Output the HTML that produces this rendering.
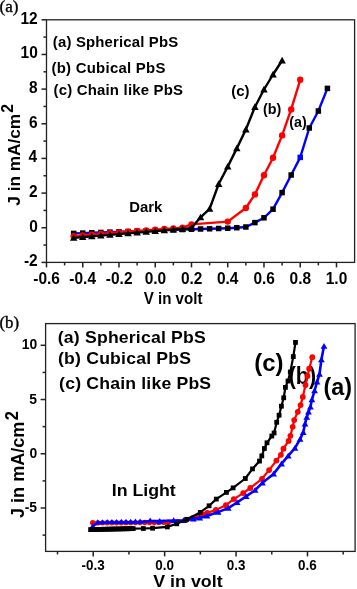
<!DOCTYPE html>
<html><head><meta charset="utf-8"><style>
html,body{margin:0;padding:0;background:#fff;}
body{width:357px;height:589px;overflow:hidden;}
svg{display:block;will-change:transform;}
</style></head><body>
<svg width="357" height="589" viewBox="0 0 357 589">
<rect width="357" height="589" fill="#fff"/>
<rect x="46.5" y="19.8" width="308.1" height="242.59999999999997" fill="none" stroke="#222" stroke-width="1.3"/>
<line x1="41.5" y1="262.40" x2="46.5" y2="262.40" stroke="#222" stroke-width="1.5"/>
<text transform="translate(23.94,266.30) scale(0.9500,1)" font-family='"Liberation Sans", sans-serif' font-size="16.3" font-weight="bold">-2</text>
<line x1="43.5" y1="245.07" x2="46.5" y2="245.07" stroke="#222" stroke-width="1.5"/>
<line x1="41.5" y1="227.74" x2="46.5" y2="227.74" stroke="#222" stroke-width="1.5"/>
<text transform="translate(29.13,231.64) scale(0.9500,1)" font-family='"Liberation Sans", sans-serif' font-size="16.3" font-weight="bold">0</text>
<line x1="43.5" y1="210.41" x2="46.5" y2="210.41" stroke="#222" stroke-width="1.5"/>
<line x1="41.5" y1="193.09" x2="46.5" y2="193.09" stroke="#222" stroke-width="1.5"/>
<text transform="translate(29.09,196.99) scale(0.9500,1)" font-family='"Liberation Sans", sans-serif' font-size="16.3" font-weight="bold">2</text>
<line x1="43.5" y1="175.76" x2="46.5" y2="175.76" stroke="#222" stroke-width="1.5"/>
<line x1="41.5" y1="158.43" x2="46.5" y2="158.43" stroke="#222" stroke-width="1.5"/>
<text transform="translate(28.58,162.33) scale(0.9500,1)" font-family='"Liberation Sans", sans-serif' font-size="16.3" font-weight="bold">4</text>
<line x1="43.5" y1="141.10" x2="46.5" y2="141.10" stroke="#222" stroke-width="1.5"/>
<line x1="41.5" y1="123.77" x2="46.5" y2="123.77" stroke="#222" stroke-width="1.5"/>
<text transform="translate(29.05,127.67) scale(0.9500,1)" font-family='"Liberation Sans", sans-serif' font-size="16.3" font-weight="bold">6</text>
<line x1="43.5" y1="106.44" x2="46.5" y2="106.44" stroke="#222" stroke-width="1.5"/>
<line x1="41.5" y1="89.11" x2="46.5" y2="89.11" stroke="#222" stroke-width="1.5"/>
<text transform="translate(28.97,93.01) scale(0.9500,1)" font-family='"Liberation Sans", sans-serif' font-size="16.3" font-weight="bold">8</text>
<line x1="43.5" y1="71.79" x2="46.5" y2="71.79" stroke="#222" stroke-width="1.5"/>
<line x1="41.5" y1="54.46" x2="46.5" y2="54.46" stroke="#222" stroke-width="1.5"/>
<text transform="translate(20.53,58.36) scale(0.9500,1)" font-family='"Liberation Sans", sans-serif' font-size="16.3" font-weight="bold">10</text>
<line x1="43.5" y1="37.13" x2="46.5" y2="37.13" stroke="#222" stroke-width="1.5"/>
<line x1="41.5" y1="19.80" x2="46.5" y2="19.80" stroke="#222" stroke-width="1.5"/>
<text transform="translate(20.49,23.70) scale(0.9500,1)" font-family='"Liberation Sans", sans-serif' font-size="16.3" font-weight="bold">12</text>
<line x1="46.50" y1="262.4" x2="46.50" y2="267.4" stroke="#222" stroke-width="1.5"/>
<text transform="translate(33.35,284.30) scale(0.9200,1)" font-family='"Liberation Sans", sans-serif' font-size="16.8" font-weight="bold">-0.6</text>
<line x1="64.62" y1="262.4" x2="64.62" y2="265.4" stroke="#222" stroke-width="1.5"/>
<line x1="82.75" y1="262.4" x2="82.75" y2="267.4" stroke="#222" stroke-width="1.5"/>
<text transform="translate(69.37,284.30) scale(0.9200,1)" font-family='"Liberation Sans", sans-serif' font-size="16.8" font-weight="bold">-0.4</text>
<line x1="100.87" y1="262.4" x2="100.87" y2="265.4" stroke="#222" stroke-width="1.5"/>
<line x1="118.99" y1="262.4" x2="118.99" y2="267.4" stroke="#222" stroke-width="1.5"/>
<text transform="translate(105.86,284.30) scale(0.9200,1)" font-family='"Liberation Sans", sans-serif' font-size="16.8" font-weight="bold">-0.2</text>
<line x1="137.12" y1="262.4" x2="137.12" y2="265.4" stroke="#222" stroke-width="1.5"/>
<line x1="155.24" y1="262.4" x2="155.24" y2="267.4" stroke="#222" stroke-width="1.5"/>
<text transform="translate(144.70,284.30) scale(0.9200,1)" font-family='"Liberation Sans", sans-serif' font-size="16.8" font-weight="bold">0.0</text>
<line x1="173.36" y1="262.4" x2="173.36" y2="265.4" stroke="#222" stroke-width="1.5"/>
<line x1="191.49" y1="262.4" x2="191.49" y2="267.4" stroke="#222" stroke-width="1.5"/>
<text transform="translate(180.93,284.30) scale(0.9200,1)" font-family='"Liberation Sans", sans-serif' font-size="16.8" font-weight="bold">0.2</text>
<line x1="209.61" y1="262.4" x2="209.61" y2="265.4" stroke="#222" stroke-width="1.5"/>
<line x1="227.74" y1="262.4" x2="227.74" y2="267.4" stroke="#222" stroke-width="1.5"/>
<text transform="translate(216.92,284.30) scale(0.9200,1)" font-family='"Liberation Sans", sans-serif' font-size="16.8" font-weight="bold">0.4</text>
<line x1="245.86" y1="262.4" x2="245.86" y2="265.4" stroke="#222" stroke-width="1.5"/>
<line x1="263.98" y1="262.4" x2="263.98" y2="267.4" stroke="#222" stroke-width="1.5"/>
<text transform="translate(253.40,284.30) scale(0.9200,1)" font-family='"Liberation Sans", sans-serif' font-size="16.8" font-weight="bold">0.6</text>
<line x1="282.11" y1="262.4" x2="282.11" y2="265.4" stroke="#222" stroke-width="1.5"/>
<line x1="300.23" y1="262.4" x2="300.23" y2="267.4" stroke="#222" stroke-width="1.5"/>
<text transform="translate(289.61,284.30) scale(0.9200,1)" font-family='"Liberation Sans", sans-serif' font-size="16.8" font-weight="bold">0.8</text>
<line x1="318.35" y1="262.4" x2="318.35" y2="265.4" stroke="#222" stroke-width="1.5"/>
<line x1="336.48" y1="262.4" x2="336.48" y2="267.4" stroke="#222" stroke-width="1.5"/>
<text transform="translate(325.76,284.30) scale(0.9200,1)" font-family='"Liberation Sans", sans-serif' font-size="16.8" font-weight="bold">1.0</text>
<text transform="translate(143.69,304.00) scale(0.9161,1)" font-family='"Liberation Sans", sans-serif' font-size="16.5" font-weight="bold" fill="#000">V in volt</text>
<text transform="translate(19.60,205.66) rotate(-90) scale(1.0770,1)" font-family='"Liberation Sans", sans-serif' font-size="16" font-weight="bold" fill="#000">J in mA/cm</text>
<text transform="translate(13.20,112.75) rotate(-90) scale(0.9546,1)" font-family='"Liberation Sans", sans-serif' font-size="16.5" font-weight="bold" fill="#000">2</text>
<text transform="translate(52.85,47.40) scale(0.9700,1)" font-family='"Liberation Sans", sans-serif' font-size="15.4" font-weight="bold" fill="#000" letter-spacing="0.166">(a) Spherical PbS</text>
<text transform="translate(51.45,73.40) scale(0.9700,1)" font-family='"Liberation Sans", sans-serif' font-size="15.4" font-weight="bold" fill="#000" letter-spacing="0.269">(b) Cubical PbS</text>
<text transform="translate(53.45,95.20) scale(0.9700,1)" font-family='"Liberation Sans", sans-serif' font-size="15.4" font-weight="bold" fill="#000" letter-spacing="0.216">(c) Chain like PbS</text>
<text transform="translate(231.15,95.50) scale(0.9978,1)" font-family='"Liberation Sans", sans-serif' font-size="15" font-weight="bold" fill="#000">(c)</text>
<text transform="translate(262.88,113.50) scale(0.9568,1)" font-family='"Liberation Sans", sans-serif' font-size="15" font-weight="bold" fill="#000">(b)</text>
<text transform="translate(289.29,126.80) scale(0.9830,1)" font-family='"Liberation Sans", sans-serif' font-size="14.5" font-weight="bold" fill="#000">(a)</text>
<text transform="translate(129.30,211.70) scale(0.9724,1)" font-family='"Liberation Sans", sans-serif' font-size="15.3" font-weight="bold" fill="#000">Dark</text>
<text transform="translate(-0.53,12.10) scale(1.0347,1)" font-family='"Liberation Serif", serif' font-size="16.5" font-weight="normal" fill="#000" stroke="#000" stroke-width="0.35">(a)</text>
<polyline points="73.69,233.40 82.75,233.08 91.81,232.75 100.87,232.43 109.93,232.11 118.99,231.78 128.06,231.46 137.12,231.14 146.18,230.82 155.24,230.49 164.30,230.17 173.36,229.85 182.43,229.52 191.49,229.20 200.55,229.00 209.61,228.80 218.67,228.50 227.74,228.20 236.80,227.70 245.86,227.00 254.92,222.60 263.98,217.80 273.04,209.20 282.11,192.60 291.17,175.00 300.23,157.40 309.29,128.00 318.35,111.00 327.41,88.40" fill="none" stroke="#0000ff" stroke-width="2.4" stroke-linejoin="round"/>
<rect x="70.94" y="230.65" width="5.5" height="5.5" fill="#000"/>
<rect x="80.00" y="230.33" width="5.5" height="5.5" fill="#000"/>
<rect x="89.06" y="230.00" width="5.5" height="5.5" fill="#000"/>
<rect x="98.12" y="229.68" width="5.5" height="5.5" fill="#000"/>
<rect x="107.18" y="229.36" width="5.5" height="5.5" fill="#000"/>
<rect x="116.24" y="229.03" width="5.5" height="5.5" fill="#000"/>
<rect x="125.31" y="228.71" width="5.5" height="5.5" fill="#000"/>
<rect x="134.37" y="228.39" width="5.5" height="5.5" fill="#000"/>
<rect x="143.43" y="228.07" width="5.5" height="5.5" fill="#000"/>
<rect x="152.49" y="227.74" width="5.5" height="5.5" fill="#000"/>
<rect x="161.55" y="227.42" width="5.5" height="5.5" fill="#000"/>
<rect x="170.61" y="227.10" width="5.5" height="5.5" fill="#000"/>
<rect x="179.68" y="226.77" width="5.5" height="5.5" fill="#000"/>
<rect x="188.74" y="226.45" width="5.5" height="5.5" fill="#000"/>
<rect x="197.80" y="226.25" width="5.5" height="5.5" fill="#000"/>
<rect x="206.86" y="226.05" width="5.5" height="5.5" fill="#000"/>
<rect x="215.92" y="225.75" width="5.5" height="5.5" fill="#000"/>
<rect x="224.99" y="225.45" width="5.5" height="5.5" fill="#000"/>
<rect x="234.05" y="224.95" width="5.5" height="5.5" fill="#000"/>
<rect x="243.11" y="224.25" width="5.5" height="5.5" fill="#000"/>
<rect x="252.17" y="219.85" width="5.5" height="5.5" fill="#000"/>
<rect x="261.23" y="215.05" width="5.5" height="5.5" fill="#000"/>
<rect x="270.29" y="206.45" width="5.5" height="5.5" fill="#000"/>
<rect x="279.36" y="189.85" width="5.5" height="5.5" fill="#000"/>
<rect x="288.42" y="172.25" width="5.5" height="5.5" fill="#000"/>
<rect x="306.54" y="125.25" width="5.5" height="5.5" fill="#000"/>
<rect x="315.60" y="108.25" width="5.5" height="5.5" fill="#000"/>
<rect x="324.66" y="85.65" width="5.5" height="5.5" fill="#000"/>
<rect x="297.48" y="154.65" width="5.5" height="5.5" fill="#0000ff"/>
<polyline points="73.69,236.20 82.75,235.47 91.81,234.73 100.87,234.00 109.93,233.27 118.99,232.53 128.06,231.80 137.12,231.07 146.18,230.33 155.24,229.60 164.30,229.00 173.36,228.40 182.43,227.70 191.49,224.40 227.74,221.60 245.86,208.00 254.92,194.40 263.98,175.20 273.04,157.80 282.11,135.40 291.17,109.40 300.23,79.80" fill="none" stroke="#ff0000" stroke-width="2.4" stroke-linejoin="round"/>
<circle cx="73.69" cy="236.20" r="3.2" fill="#ff0000"/>
<circle cx="82.75" cy="235.47" r="3.2" fill="#ff0000"/>
<circle cx="91.81" cy="234.73" r="3.2" fill="#ff0000"/>
<circle cx="100.87" cy="234.00" r="3.2" fill="#ff0000"/>
<circle cx="109.93" cy="233.27" r="3.2" fill="#ff0000"/>
<circle cx="118.99" cy="232.53" r="3.2" fill="#ff0000"/>
<circle cx="128.06" cy="231.80" r="3.2" fill="#ff0000"/>
<circle cx="137.12" cy="231.07" r="3.2" fill="#ff0000"/>
<circle cx="146.18" cy="230.33" r="3.2" fill="#ff0000"/>
<circle cx="155.24" cy="229.60" r="3.2" fill="#ff0000"/>
<circle cx="164.30" cy="229.00" r="3.2" fill="#ff0000"/>
<circle cx="173.36" cy="228.40" r="3.2" fill="#ff0000"/>
<circle cx="182.43" cy="227.70" r="3.2" fill="#ff0000"/>
<circle cx="191.49" cy="224.40" r="3.2" fill="#ff0000"/>
<circle cx="227.74" cy="221.60" r="3.2" fill="#ff0000"/>
<circle cx="245.86" cy="208.00" r="3.2" fill="#ff0000"/>
<circle cx="254.92" cy="194.40" r="3.2" fill="#ff0000"/>
<circle cx="263.98" cy="175.20" r="3.2" fill="#ff0000"/>
<circle cx="273.04" cy="157.80" r="3.2" fill="#ff0000"/>
<circle cx="282.11" cy="135.40" r="3.2" fill="#ff0000"/>
<circle cx="291.17" cy="109.40" r="3.2" fill="#ff0000"/>
<circle cx="300.23" cy="79.80" r="3.2" fill="#ff0000"/>
<polyline points="73.69,237.90 82.75,237.15 91.81,236.39 100.87,235.64 109.93,234.88 118.99,234.13 128.06,233.38 137.12,232.62 146.18,231.87 155.24,231.12 164.30,230.36 173.36,229.61 182.43,228.85 191.49,228.10 200.55,217.30 209.61,208.80 218.67,184.00 227.74,166.60 236.80,148.40 245.86,129.50 254.92,107.00 263.98,89.50 273.04,74.50 282.11,60.50" fill="none" stroke="#000" stroke-width="2.4" stroke-linejoin="round"/>
<path d="M73.69,234.27L77.44,240.87L69.94,240.87Z" fill="#000"/>
<path d="M82.75,233.52L86.50,240.12L79.00,240.12Z" fill="#000"/>
<path d="M91.81,232.76L95.56,239.36L88.06,239.36Z" fill="#000"/>
<path d="M100.87,232.01L104.62,238.61L97.12,238.61Z" fill="#000"/>
<path d="M109.93,231.25L113.68,237.85L106.18,237.85Z" fill="#000"/>
<path d="M118.99,230.50L122.74,237.10L115.24,237.10Z" fill="#000"/>
<path d="M128.06,229.75L131.81,236.35L124.31,236.35Z" fill="#000"/>
<path d="M137.12,228.99L140.87,235.59L133.37,235.59Z" fill="#000"/>
<path d="M146.18,228.24L149.93,234.84L142.43,234.84Z" fill="#000"/>
<path d="M155.24,227.49L158.99,234.09L151.49,234.09Z" fill="#000"/>
<path d="M164.30,226.73L168.05,233.33L160.55,233.33Z" fill="#000"/>
<path d="M173.36,225.98L177.11,232.58L169.61,232.58Z" fill="#000"/>
<path d="M182.43,225.22L186.18,231.82L178.68,231.82Z" fill="#000"/>
<path d="M191.49,224.47L195.24,231.07L187.74,231.07Z" fill="#000"/>
<path d="M200.55,213.67L204.30,220.27L196.80,220.27Z" fill="#000"/>
<path d="M209.61,205.17L213.36,211.77L205.86,211.77Z" fill="#000"/>
<path d="M218.67,180.37L222.42,186.97L214.92,186.97Z" fill="#000"/>
<path d="M227.74,162.97L231.49,169.57L223.99,169.57Z" fill="#000"/>
<path d="M236.80,144.77L240.55,151.37L233.05,151.37Z" fill="#000"/>
<path d="M245.86,125.87L249.61,132.47L242.11,132.47Z" fill="#000"/>
<path d="M254.92,103.37L258.67,109.97L251.17,109.97Z" fill="#000"/>
<path d="M263.98,85.87L267.73,92.47L260.23,92.47Z" fill="#000"/>
<path d="M273.04,70.87L276.79,77.47L269.29,77.47Z" fill="#000"/>
<path d="M282.11,56.87L285.86,63.47L278.36,63.47Z" fill="#000"/>
<rect x="45.6" y="323.6" width="309.5" height="227.79999999999995" fill="none" stroke="#222" stroke-width="1.3"/>
<line x1="42.6" y1="535.13" x2="45.6" y2="535.13" stroke="#222" stroke-width="1.5"/>
<line x1="40.6" y1="508.01" x2="45.6" y2="508.01" stroke="#222" stroke-width="1.5"/>
<text transform="translate(24.64,512.01) scale(0.9400,1)" font-family='"Liberation Sans", sans-serif' font-size="14.8" font-weight="bold">-5</text>
<line x1="42.6" y1="480.89" x2="45.6" y2="480.89" stroke="#222" stroke-width="1.5"/>
<line x1="40.6" y1="453.77" x2="45.6" y2="453.77" stroke="#222" stroke-width="1.5"/>
<text transform="translate(29.44,457.77) scale(0.9400,1)" font-family='"Liberation Sans", sans-serif' font-size="14.8" font-weight="bold">0</text>
<line x1="42.6" y1="426.65" x2="45.6" y2="426.65" stroke="#222" stroke-width="1.5"/>
<line x1="40.6" y1="399.53" x2="45.6" y2="399.53" stroke="#222" stroke-width="1.5"/>
<text transform="translate(29.26,403.53) scale(0.9400,1)" font-family='"Liberation Sans", sans-serif' font-size="14.8" font-weight="bold">5</text>
<line x1="42.6" y1="372.41" x2="45.6" y2="372.41" stroke="#222" stroke-width="1.5"/>
<line x1="40.6" y1="345.30" x2="45.6" y2="345.30" stroke="#222" stroke-width="1.5"/>
<text transform="translate(21.71,349.30) scale(0.9400,1)" font-family='"Liberation Sans", sans-serif' font-size="14.8" font-weight="bold">10</text>
<line x1="57.50" y1="551.4" x2="57.50" y2="554.4" stroke="#222" stroke-width="1.5"/>
<line x1="93.22" y1="551.4" x2="93.22" y2="556.4" stroke="#222" stroke-width="1.5"/>
<text transform="translate(81.60,570.40) scale(0.9400,1)" font-family='"Liberation Sans", sans-serif' font-size="14.3" font-weight="bold">-0.3</text>
<line x1="128.93" y1="551.4" x2="128.93" y2="554.4" stroke="#222" stroke-width="1.5"/>
<line x1="164.64" y1="551.4" x2="164.64" y2="556.4" stroke="#222" stroke-width="1.5"/>
<text transform="translate(155.30,570.40) scale(0.9400,1)" font-family='"Liberation Sans", sans-serif' font-size="14.3" font-weight="bold">0.0</text>
<line x1="200.35" y1="551.4" x2="200.35" y2="554.4" stroke="#222" stroke-width="1.5"/>
<line x1="236.06" y1="551.4" x2="236.06" y2="556.4" stroke="#222" stroke-width="1.5"/>
<text transform="translate(226.69,570.40) scale(0.9400,1)" font-family='"Liberation Sans", sans-serif' font-size="14.3" font-weight="bold">0.3</text>
<line x1="271.77" y1="551.4" x2="271.77" y2="554.4" stroke="#222" stroke-width="1.5"/>
<line x1="307.48" y1="551.4" x2="307.48" y2="556.4" stroke="#222" stroke-width="1.5"/>
<text transform="translate(298.11,570.40) scale(0.9400,1)" font-family='"Liberation Sans", sans-serif' font-size="14.3" font-weight="bold">0.6</text>
<line x1="343.20" y1="551.4" x2="343.20" y2="554.4" stroke="#222" stroke-width="1.5"/>
<text transform="translate(153.27,586.80) scale(1.0938,1)" font-family='"Liberation Sans", sans-serif' font-size="16.3" font-weight="bold" fill="#000">V in volt</text>
<text transform="translate(23.80,517.97) rotate(-90) scale(0.9520,1)" font-family='"Liberation Sans", sans-serif' font-size="19" font-weight="bold" fill="#000">J in mA/cm</text>
<text transform="translate(17.60,420.28) rotate(-90) scale(0.8726,1)" font-family='"Liberation Sans", sans-serif' font-size="19" font-weight="bold" fill="#000">2</text>
<text transform="translate(57.82,343.10) scale(1.0700,1)" font-family='"Liberation Sans", sans-serif' font-size="16.5" font-weight="bold" fill="#000" letter-spacing="0.162">(a) Spherical PbS</text>
<text transform="translate(58.02,363.60) scale(1.0700,1)" font-family='"Liberation Sans", sans-serif' font-size="16.5" font-weight="bold" fill="#000" letter-spacing="0.175">(b) Cubical PbS</text>
<text transform="translate(59.12,389.30) scale(1.0700,1)" font-family='"Liberation Sans", sans-serif' font-size="16.5" font-weight="bold" fill="#000" letter-spacing="0.162">(c) Chain like PbS</text>
<text transform="translate(254.30,371.20) scale(1.0198,1)" font-family='"Liberation Sans", sans-serif' font-size="23.5" font-weight="bold" fill="#000">(c)</text>
<text transform="translate(288.73,383.60) scale(0.9107,1)" font-family='"Liberation Sans", sans-serif' font-size="23.5" font-weight="bold" fill="#000">(b)</text>
<text transform="translate(323.53,395.20) scale(0.9932,1)" font-family='"Liberation Sans", sans-serif' font-size="23.5" font-weight="bold" fill="#000">(a)</text>
<text transform="translate(111.70,495.60) scale(1.0765,1)" font-family='"Liberation Sans", sans-serif' font-size="16.5" font-weight="bold" fill="#000">In Light</text>
<text transform="translate(-0.52,327.80) scale(1.0532,1)" font-family='"Liberation Serif", serif' font-size="16" font-weight="normal" fill="#000" stroke="#000" stroke-width="0.35">(b)</text>
<polyline points="92.70,522.70 97.80,522.90 102.50,522.86 107.20,522.82 111.90,522.78 116.60,522.75 121.30,522.71 126.00,522.67 130.70,522.63 135.40,522.59 140.10,522.55 144.80,522.51 149.50,522.48 154.20,522.44 158.90,522.40 163.60,522.36 168.30,522.32 178.00,521.60 186.00,520.00 193.00,518.00 198.00,516.30 202.60,514.50 207.20,513.00 215.90,509.90 225.90,505.20 233.80,499.10 243.20,493.10 250.30,488.00 262.00,478.80 269.10,470.10 276.40,460.60 280.90,454.80 283.50,448.70 288.60,440.90 290.40,435.80 292.70,426.80 294.20,420.10 297.80,411.80 300.60,405.10 302.80,396.90 305.50,385.00 307.50,376.00 309.20,368.70 312.30,357.20" fill="none" stroke="#ff0000" stroke-width="2.2" stroke-linejoin="round"/>
<circle cx="92.70" cy="522.70" r="2.7" fill="#ff0000"/>
<circle cx="97.80" cy="522.90" r="2.7" fill="#ff0000"/>
<circle cx="102.50" cy="522.86" r="2.7" fill="#ff0000"/>
<circle cx="107.20" cy="522.82" r="2.7" fill="#ff0000"/>
<circle cx="111.90" cy="522.78" r="2.7" fill="#ff0000"/>
<circle cx="116.60" cy="522.75" r="2.7" fill="#ff0000"/>
<circle cx="121.30" cy="522.71" r="2.7" fill="#ff0000"/>
<circle cx="126.00" cy="522.67" r="2.7" fill="#ff0000"/>
<circle cx="130.70" cy="522.63" r="2.7" fill="#ff0000"/>
<circle cx="135.40" cy="522.59" r="2.7" fill="#ff0000"/>
<circle cx="140.10" cy="522.55" r="2.7" fill="#ff0000"/>
<circle cx="144.80" cy="522.51" r="2.7" fill="#ff0000"/>
<circle cx="149.50" cy="522.48" r="2.7" fill="#ff0000"/>
<circle cx="154.20" cy="522.44" r="2.7" fill="#ff0000"/>
<circle cx="158.90" cy="522.40" r="2.7" fill="#ff0000"/>
<circle cx="163.60" cy="522.36" r="2.7" fill="#ff0000"/>
<circle cx="168.30" cy="522.32" r="2.7" fill="#ff0000"/>
<circle cx="178.00" cy="521.60" r="2.7" fill="#ff0000"/>
<circle cx="186.00" cy="520.00" r="2.9" fill="#ff0000"/>
<circle cx="193.00" cy="518.00" r="2.9" fill="#ff0000"/>
<circle cx="198.00" cy="516.30" r="2.9" fill="#ff0000"/>
<circle cx="202.60" cy="514.50" r="2.9" fill="#ff0000"/>
<circle cx="207.20" cy="513.00" r="2.9" fill="#ff0000"/>
<circle cx="215.90" cy="509.90" r="2.9" fill="#ff0000"/>
<circle cx="225.90" cy="505.20" r="2.9" fill="#ff0000"/>
<circle cx="233.80" cy="499.10" r="2.9" fill="#ff0000"/>
<circle cx="243.20" cy="493.10" r="2.9" fill="#ff0000"/>
<circle cx="250.30" cy="488.00" r="2.9" fill="#ff0000"/>
<circle cx="262.00" cy="478.80" r="2.9" fill="#ff0000"/>
<circle cx="269.10" cy="470.10" r="2.9" fill="#ff0000"/>
<circle cx="276.40" cy="460.60" r="2.9" fill="#ff0000"/>
<circle cx="280.90" cy="454.80" r="2.9" fill="#ff0000"/>
<circle cx="283.50" cy="448.70" r="2.9" fill="#ff0000"/>
<circle cx="288.60" cy="440.90" r="2.9" fill="#ff0000"/>
<circle cx="290.40" cy="435.80" r="2.9" fill="#ff0000"/>
<circle cx="292.70" cy="426.80" r="2.9" fill="#ff0000"/>
<circle cx="294.20" cy="420.10" r="2.9" fill="#ff0000"/>
<circle cx="297.80" cy="411.80" r="2.9" fill="#ff0000"/>
<circle cx="300.60" cy="405.10" r="2.9" fill="#ff0000"/>
<circle cx="302.80" cy="396.90" r="2.9" fill="#ff0000"/>
<circle cx="305.50" cy="385.00" r="2.9" fill="#ff0000"/>
<circle cx="307.50" cy="376.00" r="2.9" fill="#ff0000"/>
<circle cx="309.20" cy="368.70" r="2.9" fill="#ff0000"/>
<circle cx="312.30" cy="357.20" r="2.9" fill="#ff0000"/>
<polyline points="92.70,526.00 97.80,522.90 102.50,522.81 107.20,522.73 111.90,522.64 116.60,522.55 121.30,522.46 126.00,522.38 130.70,522.29 135.40,522.20 140.10,522.11 150.20,521.10 159.70,521.10 173.70,520.50 183.50,520.40 193.50,518.90 199.70,518.00 206.90,515.90 218.10,512.10 228.20,508.10 237.10,502.50 246.10,496.40 255.10,490.20 262.40,482.80 273.60,473.90 281.50,463.80 288.20,455.90 294.90,448.10 300.10,439.10 303.20,432.40 305.00,423.90 306.80,417.20 308.50,412.00 310.40,406.90 311.90,399.70 314.60,390.60 317.00,382.00 319.50,374.20 321.40,359.60 324.00,346.20" fill="none" stroke="#0000ff" stroke-width="2.6" stroke-linejoin="round"/>
<path d="M92.70,523.14L95.70,528.34L89.70,528.34Z" fill="#0000ff"/>
<path d="M97.80,519.25L100.80,524.25L94.80,524.25Z" fill="#0000ff"/>
<path d="M102.50,519.16L105.50,524.16L99.50,524.16Z" fill="#0000ff"/>
<path d="M107.20,519.08L110.20,524.08L104.20,524.08Z" fill="#0000ff"/>
<path d="M111.90,518.99L114.90,523.99L108.90,523.99Z" fill="#0000ff"/>
<path d="M116.60,518.90L119.60,523.90L113.60,523.90Z" fill="#0000ff"/>
<path d="M121.30,518.81L124.30,523.81L118.30,523.81Z" fill="#0000ff"/>
<path d="M126.00,518.73L129.00,523.73L123.00,523.73Z" fill="#0000ff"/>
<path d="M130.70,518.64L133.70,523.64L127.70,523.64Z" fill="#0000ff"/>
<path d="M135.40,518.55L138.40,523.55L132.40,523.55Z" fill="#0000ff"/>
<path d="M140.10,518.46L143.10,523.46L137.10,523.46Z" fill="#0000ff"/>
<path d="M150.20,517.45L153.20,522.45L147.20,522.45Z" fill="#0000ff"/>
<path d="M159.70,517.91L163.10,523.71L156.30,523.71Z" fill="#0000ff"/>
<path d="M173.70,517.31L177.10,523.11L170.30,523.11Z" fill="#0000ff"/>
<path d="M183.50,517.21L186.90,523.01L180.10,523.01Z" fill="#0000ff"/>
<path d="M193.50,515.71L196.90,521.51L190.10,521.51Z" fill="#0000ff"/>
<path d="M199.70,514.81L203.10,520.61L196.30,520.61Z" fill="#0000ff"/>
<path d="M206.90,512.71L210.30,518.51L203.50,518.51Z" fill="#0000ff"/>
<path d="M218.10,508.91L221.50,514.71L214.70,514.71Z" fill="#0000ff"/>
<path d="M228.20,504.91L231.60,510.71L224.80,510.71Z" fill="#0000ff"/>
<path d="M237.10,499.31L240.50,505.11L233.70,505.11Z" fill="#0000ff"/>
<path d="M246.10,493.21L249.50,499.01L242.70,499.01Z" fill="#0000ff"/>
<path d="M255.10,487.01L258.50,492.81L251.70,492.81Z" fill="#0000ff"/>
<path d="M262.40,479.61L265.80,485.41L259.00,485.41Z" fill="#0000ff"/>
<path d="M273.60,470.71L277.00,476.51L270.20,476.51Z" fill="#0000ff"/>
<path d="M281.50,460.61L284.90,466.41L278.10,466.41Z" fill="#0000ff"/>
<path d="M288.20,452.71L291.60,458.51L284.80,458.51Z" fill="#0000ff"/>
<path d="M294.90,444.91L298.30,450.71L291.50,450.71Z" fill="#0000ff"/>
<path d="M300.10,435.91L303.50,441.71L296.70,441.71Z" fill="#0000ff"/>
<path d="M303.20,429.21L306.60,435.01L299.80,435.01Z" fill="#0000ff"/>
<path d="M305.00,420.71L308.40,426.51L301.60,426.51Z" fill="#0000ff"/>
<path d="M306.80,414.01L310.20,419.81L303.40,419.81Z" fill="#0000ff"/>
<path d="M308.50,408.81L311.90,414.61L305.10,414.61Z" fill="#0000ff"/>
<path d="M310.40,403.71L313.80,409.51L307.00,409.51Z" fill="#0000ff"/>
<path d="M311.90,396.51L315.30,402.31L308.50,402.31Z" fill="#0000ff"/>
<path d="M314.60,387.41L318.00,393.21L311.20,393.21Z" fill="#0000ff"/>
<path d="M317.00,378.81L320.40,384.61L313.60,384.61Z" fill="#0000ff"/>
<path d="M319.50,371.01L322.90,376.81L316.10,376.81Z" fill="#0000ff"/>
<path d="M321.40,356.41L324.80,362.21L318.00,362.21Z" fill="#0000ff"/>
<path d="M324.00,343.01L327.40,348.81L320.60,348.81Z" fill="#0000ff"/>
<polyline points="90.60,529.60 92.73,529.55 94.86,529.50 96.99,529.45 99.12,529.40 101.25,529.35 103.38,529.30 105.51,529.25 107.64,529.20 109.77,529.15 111.90,529.10 114.03,529.05 116.16,529.00 118.29,528.95 120.42,528.90 122.55,528.85 124.68,528.80 126.81,528.75 128.94,528.70 131.07,528.65 133.20,528.60 143.30,528.50 152.60,528.20 167.30,526.90 176.70,523.80 186.80,519.30 200.30,512.40 209.10,505.80 216.30,499.10 226.40,492.40 233.10,487.90 245.30,478.50 252.50,468.90 259.50,461.10 261.80,455.90 264.40,448.50 267.00,442.80 271.80,436.00 274.10,433.00 276.70,422.30 279.10,415.20 281.40,406.20 283.70,397.80 285.40,387.40 288.00,381.00 290.30,372.00 293.30,356.60 295.50,342.40" fill="none" stroke="#000" stroke-width="2.2" stroke-linejoin="round"/>
<rect x="88.20" y="527.20" width="4.8" height="4.8" fill="#000"/>
<rect x="90.33" y="527.15" width="4.8" height="4.8" fill="#000"/>
<rect x="92.46" y="527.10" width="4.8" height="4.8" fill="#000"/>
<rect x="94.59" y="527.05" width="4.8" height="4.8" fill="#000"/>
<rect x="96.72" y="527.00" width="4.8" height="4.8" fill="#000"/>
<rect x="98.85" y="526.95" width="4.8" height="4.8" fill="#000"/>
<rect x="100.98" y="526.90" width="4.8" height="4.8" fill="#000"/>
<rect x="103.11" y="526.85" width="4.8" height="4.8" fill="#000"/>
<rect x="105.24" y="526.80" width="4.8" height="4.8" fill="#000"/>
<rect x="107.37" y="526.75" width="4.8" height="4.8" fill="#000"/>
<rect x="109.50" y="526.70" width="4.8" height="4.8" fill="#000"/>
<rect x="111.63" y="526.65" width="4.8" height="4.8" fill="#000"/>
<rect x="113.76" y="526.60" width="4.8" height="4.8" fill="#000"/>
<rect x="115.89" y="526.55" width="4.8" height="4.8" fill="#000"/>
<rect x="118.02" y="526.50" width="4.8" height="4.8" fill="#000"/>
<rect x="120.15" y="526.45" width="4.8" height="4.8" fill="#000"/>
<rect x="122.28" y="526.40" width="4.8" height="4.8" fill="#000"/>
<rect x="124.41" y="526.35" width="4.8" height="4.8" fill="#000"/>
<rect x="126.54" y="526.30" width="4.8" height="4.8" fill="#000"/>
<rect x="128.67" y="526.25" width="4.8" height="4.8" fill="#000"/>
<rect x="130.80" y="526.20" width="4.8" height="4.8" fill="#000"/>
<rect x="140.90" y="526.10" width="4.8" height="4.8" fill="#000"/>
<rect x="150.20" y="525.80" width="4.8" height="4.8" fill="#000"/>
<rect x="164.90" y="524.50" width="4.8" height="4.8" fill="#000"/>
<rect x="174.30" y="521.40" width="4.8" height="4.8" fill="#000"/>
<rect x="184.40" y="516.90" width="4.8" height="4.8" fill="#000"/>
<rect x="197.90" y="510.00" width="4.8" height="4.8" fill="#000"/>
<rect x="206.70" y="503.40" width="4.8" height="4.8" fill="#000"/>
<rect x="213.90" y="496.70" width="4.8" height="4.8" fill="#000"/>
<rect x="224.00" y="490.00" width="4.8" height="4.8" fill="#000"/>
<rect x="230.70" y="485.50" width="4.8" height="4.8" fill="#000"/>
<rect x="242.90" y="476.10" width="4.8" height="4.8" fill="#000"/>
<rect x="250.10" y="466.50" width="4.8" height="4.8" fill="#000"/>
<rect x="257.10" y="458.70" width="4.8" height="4.8" fill="#000"/>
<rect x="259.40" y="453.50" width="4.8" height="4.8" fill="#000"/>
<rect x="262.00" y="446.10" width="4.8" height="4.8" fill="#000"/>
<rect x="264.60" y="440.40" width="4.8" height="4.8" fill="#000"/>
<rect x="269.40" y="433.60" width="4.8" height="4.8" fill="#000"/>
<rect x="271.70" y="430.60" width="4.8" height="4.8" fill="#000"/>
<rect x="274.30" y="419.90" width="4.8" height="4.8" fill="#000"/>
<rect x="276.70" y="412.80" width="4.8" height="4.8" fill="#000"/>
<rect x="279.00" y="403.80" width="4.8" height="4.8" fill="#000"/>
<rect x="281.30" y="395.40" width="4.8" height="4.8" fill="#000"/>
<rect x="283.00" y="385.00" width="4.8" height="4.8" fill="#000"/>
<rect x="285.60" y="378.60" width="4.8" height="4.8" fill="#000"/>
<rect x="287.90" y="369.60" width="4.8" height="4.8" fill="#000"/>
<rect x="290.90" y="354.20" width="4.8" height="4.8" fill="#000"/>
<rect x="293.10" y="340.00" width="4.8" height="4.8" fill="#000"/>
</svg>
</body></html>
